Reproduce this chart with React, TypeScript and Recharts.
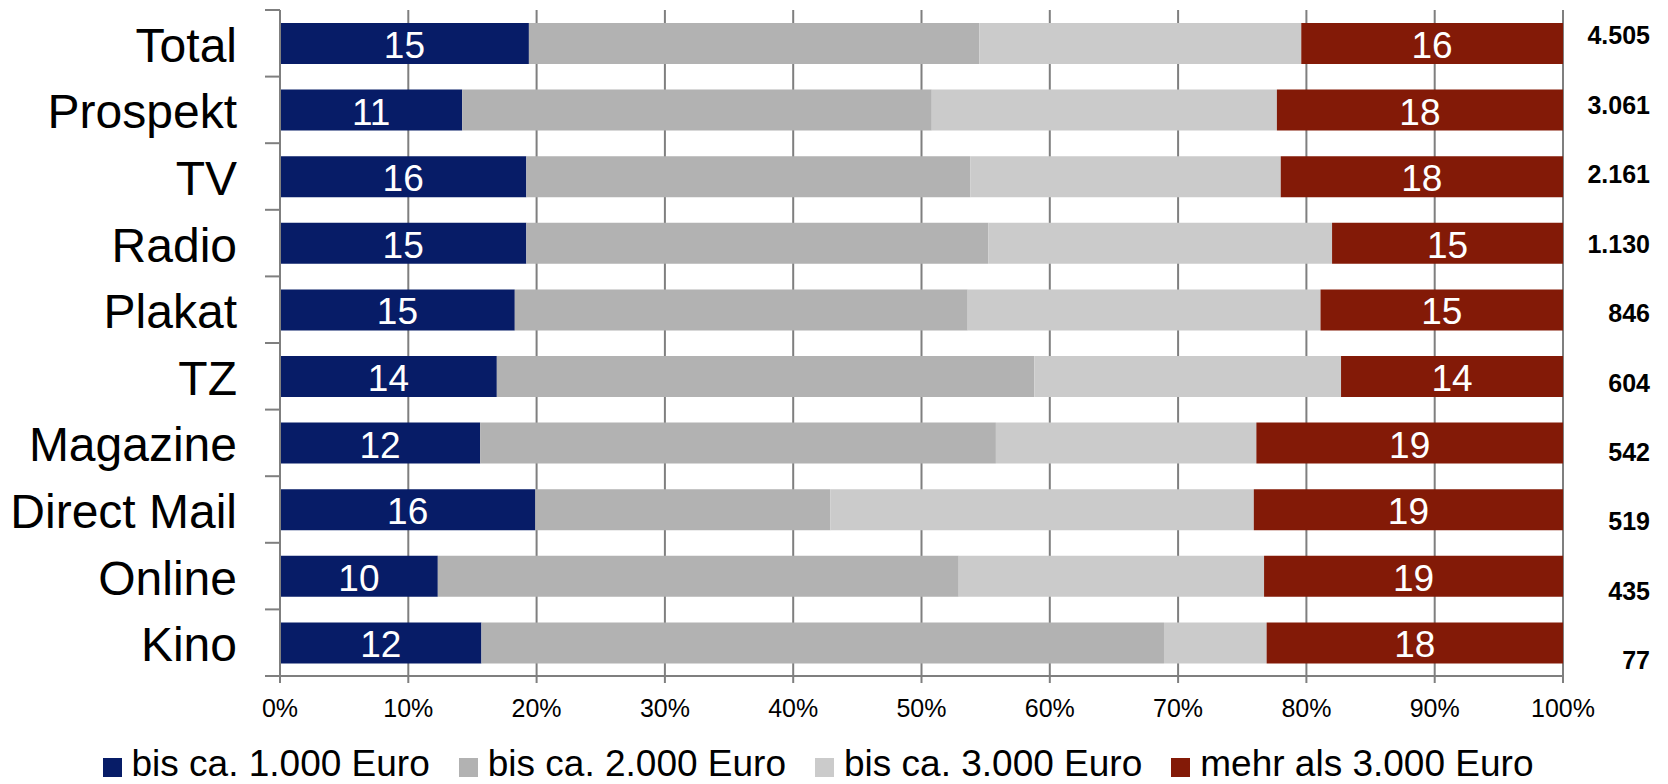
import React from "react";
import { BarChart, Bar, XAxis, YAxis, CartesianGrid, Legend, LabelList } from "recharts";

const categories = ["Total", "Prospekt", "TV", "Radio", "Plakat", "TZ", "Magazine", "Direct Mail", "Online", "Kino"];

// share per price band, in % of each row
const upTo1000 = [19.4, 14.2, 19.2, 19.2, 18.3, 16.9, 15.6, 19.9, 12.3, 15.7];
const upTo2000 = [35.1, 36.6, 34.6, 36.0, 35.3, 41.9, 40.2, 23.0, 40.6, 53.2];
const upTo3000 = [25.1, 26.9, 24.2, 26.8, 27.5, 23.9, 20.3, 33.0, 23.8, 8.0];
const over3000 = [20.4, 22.3, 22.0, 18.0, 18.9, 17.3, 23.9, 24.1, 23.3, 23.1];

// printed labels inside the outer segments
const labels1000 = [15, 11, 16, 15, 15, 14, 12, 16, 10, 12];
const labelsOver3000 = [16, 18, 18, 15, 15, 14, 19, 19, 19, 18];

// case counts on the right
const totals = ["4.505", "3.061", "2.161", "1.130", "846", "604", "542", "519", "435", "77"];

const xTicks = [0, 10, 20, 30, 40, 50, 60, 70, 80, 90, 100];
const seriesNames = ["bis ca. 1.000 Euro", "bis ca. 2.000 Euro", "bis ca. 3.000 Euro", "mehr als 3.000 Euro"];
const colors = ["#071C67", "#B2B2B2", "#CBCBCB", "#831A07"];

const data = categories.map((name, i) => ({
  name,
  a: upTo1000[i],
  b: upTo2000[i],
  c: upTo3000[i],
  d: over3000[i],
  la: labels1000[i],
  ld: labelsOver3000[i],
  total: totals[i],
}));

const W = 1668;
const H = 784;
const TOP = 10;
const X_AXIS_H = 46;
const LEGEND_H = 62;
const BAND = (H - TOP - X_AXIS_H - LEGEND_H) / categories.length;
const FONT = "Arial, 'Liberation Sans', sans-serif";
const AXIS = "#7F7F7F";

const CategoryTick = ({ x, y, payload, index }: any) => (
  <g>
    <text x={x - 43} y={y} dy={2} textAnchor="end" dominantBaseline="central" fontSize={48} fill="#000" fontFamily={FONT}>
      {payload.value}
    </text>
    <line x1={x - 15} x2={x} y1={y - BAND / 2} y2={y - BAND / 2} stroke={AXIS} strokeWidth={2} />
    {index === categories.length - 1 && (
      <line x1={x - 15} x2={x} y1={y + BAND / 2} y2={y + BAND / 2} stroke={AXIS} strokeWidth={2} />
    )}
  </g>
);

const TotalTick = ({ x, y, index }: any) => (
  <text x={x + 87} y={y} dy={-8 + index * 2.85} textAnchor="end" dominantBaseline="central" fontSize={25} fontWeight="bold" fill="#000" fontFamily={FONT}>
    {totals[index]}
  </text>
);

const inside = (props: any) => {
  const { x, y, width, height, value } = props;
  return (
    <text x={x + width / 2} y={y + height / 2} dy={2} textAnchor="middle" dominantBaseline="central" fontSize={37} fill="#fff" fontFamily={FONT}>
      {value}
    </text>
  );
};

const LegendBox = () => (
  <div style={{ height: LEGEND_H, display: "flex", justifyContent: "center", paddingTop: 23, paddingRight: 32, boxSizing: "border-box", fontFamily: FONT }}>
    {seriesNames.map((n, i) => (
      <div key={n} style={{ display: "flex", alignItems: "flex-start", marginRight: i < seriesNames.length - 1 ? 29 : 0 }}>
        <span style={{ width: 19, height: 19, background: colors[i], marginTop: 13, marginRight: 10 }} />
        <span style={{ fontSize: 37, lineHeight: "37px", color: "#000", whiteSpace: "nowrap" }}>{n}</span>
      </div>
    ))}
  </div>
);

export default function App() {
  return (
    <div style={{ position: "absolute", left: 0, top: 0, width: W, height: H, background: "#fff" }}>
      <BarChart width={W} height={H} data={data} layout="vertical" margin={{ top: TOP, right: 0, left: 0, bottom: 0 }} barSize={41}>
        <CartesianGrid horizontal={false} stroke={AXIS} strokeWidth={2} />
        <XAxis
          type="number"
          domain={[0, 100]}
          ticks={xTicks}
          interval={0}
          tickFormatter={(v) => `${v}%`}
          tick={{ fontSize: 25, fill: "#000", fontFamily: FONT }}
          axisLine={{ stroke: AXIS, strokeWidth: 2 }}
          tickLine={{ stroke: AXIS, strokeWidth: 2 }}
          tickSize={7}
          tickMargin={16}
          height={X_AXIS_H}
        />
        <XAxis xAxisId="top" orientation="top" type="number" domain={[0, 100]} height={0} tick={false} tickLine={false} axisLine={{ stroke: "#A6A6A6", strokeWidth: 1.5 }} />
        <YAxis type="category" dataKey="name" width={280} axisLine={{ stroke: AXIS, strokeWidth: 2 }} tickLine={false} tickSize={0} tickMargin={0} interval={0} tick={<CategoryTick />} />
        <YAxis yAxisId="right" orientation="right" type="category" dataKey="name" width={105} axisLine={false} tickLine={false} tickSize={0} tickMargin={0} interval={0} tick={<TotalTick />} />
        <Legend verticalAlign="bottom" content={() => <LegendBox />} />
        <Bar dataKey="a" name={seriesNames[0]} stackId="s" fill={colors[0]} isAnimationActive={false}>
          <LabelList dataKey="la" content={inside} />
        </Bar>
        <Bar dataKey="b" name={seriesNames[1]} stackId="s" fill={colors[1]} isAnimationActive={false} />
        <Bar dataKey="c" name={seriesNames[2]} stackId="s" fill={colors[2]} isAnimationActive={false} />
        <Bar dataKey="d" name={seriesNames[3]} stackId="s" fill={colors[3]} isAnimationActive={false}>
          <LabelList dataKey="ld" content={inside} />
        </Bar>
      </BarChart>
    </div>
  );
}
